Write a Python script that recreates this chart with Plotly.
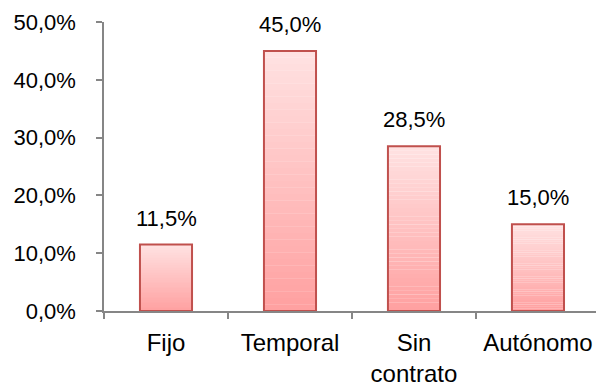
import plotly.graph_objects as go

categories = ["Fijo", "Temporal", "Sin<br>contrato", "Autónomo"]
values = [0.115, 0.450, 0.285, 0.150]
tick_vals = [0, 0.1, 0.2, 0.3, 0.4, 0.5]

N = 40
top_rgb = (255, 226, 226)
bot_rgb = (255, 160, 160)

FONT = "Liberation Sans, Arial, sans-serif"

fig = go.Figure()
# gradient fill built from stacked slices of each bar
for i in range(N):
    t = (i + 0.5) / N
    c = tuple(round(bot_rgb[k] + (top_rgb[k] - bot_rgb[k]) * t) for k in range(3))
    fig.add_trace(go.Bar(
        x=categories, y=[v / N * 1.02 for v in values], base=[v * i / N for v in values],
        marker=dict(color=f"rgb{c}", line=dict(width=0)),
        width=0.42, hoverinfo="skip", showlegend=False,
    ))
# outline
fig.add_trace(go.Bar(
    x=categories, y=values, width=0.42,
    marker=dict(color="rgba(0,0,0,0)", line=dict(color="#C0504D", width=2)),
    showlegend=False,
))

for c, v in zip(categories, values):
    fig.add_annotation(x=c, y=v, text=f"{v*100:.1f}".replace(".", ",") + "%",
                       showarrow=False, yanchor="bottom", yshift=12,
                       font=dict(size=22, color="#000", family=FONT))

fig.update_layout(
    width=596, height=391, barmode="overlay",
    margin=dict(l=104, r=0, t=22, b=80),
    paper_bgcolor="white", plot_bgcolor="white",
    separators=",.",
    font=dict(family=FONT, size=22, color="#000"),
    xaxis=dict(range=[-0.5, 3.468], showline=True, linecolor="#868686", linewidth=1.5,
               ticks="outside", tickson="boundaries", ticklen=6, tickcolor="#868686",
               tickwidth=1.5, showgrid=False, ticklabelstandoff=9, fixedrange=True,
               tickfont=dict(family=FONT, size=24)),
    yaxis=dict(range=[0, 0.5], tickvals=tick_vals, tickformat=".1%", showline=True,
               linecolor="#868686", linewidth=1.5, ticks="outside", ticklen=6,
               tickcolor="#868686", tickwidth=1.5, showgrid=False, zeroline=False,
               ticklabelstandoff=16, tickfont=dict(family=FONT, size=22)),
)

fig.write_html("out.html")
